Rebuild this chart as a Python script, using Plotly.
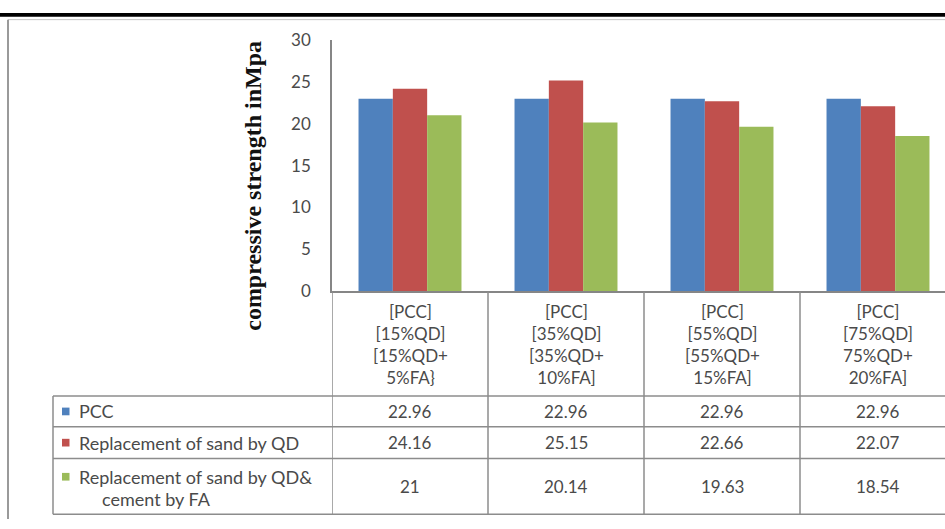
import plotly.graph_objects as go

# ---- data ----
categories = [
    "[PCC]<br>[15%QD]<br>[15%QD+<br>5%FA}",
    "[PCC]<br>[35%QD]<br>[35%QD+<br>10%FA]",
    "[PCC]<br>[55%QD]<br>[55%QD+<br>15%FA]",
    "[PCC]<br>[75%QD]<br>75%QD+<br>20%FA]",
]
series_names = [
    "PCC",
    "Replacement of sand by QD",
    "Replacement of sand by QD& cement by FA",
]
series_label_lines = [
    ["PCC"],
    ["Replacement of sand by QD"],
    ["Replacement of sand by QD&", "cement by FA"],
]
pcc = [22.96, 22.96, 22.96, 22.96]
sand_qd = [24.16, 25.15, 22.66, 22.07]
sand_qd_cement_fa = [21, 20.14, 19.63, 18.54]
series_values = [pcc, sand_qd, sand_qd_cement_fa]
value_labels = [
    ["22.96", "22.96", "22.96", "22.96"],
    ["24.16", "25.15", "22.66", "22.07"],
    ["21", "20.14", "19.63", "18.54"],
]
y_ticks = [0, 5, 10, 15, 20, 25, 30]
colors = ["#4F81BD", "#C0504D", "#9BBB59"]

W, H = 945, 529
TXT = "#4a4a4a"
GRID = "#8c8c8c"
FONT = "Lato"


def px(x):
    return x / W


def py(y):
    return 1 - y / H


x_pos = list(range(len(categories)))

fig = go.Figure()
for name, vals, col in zip(series_names, series_values, colors):
    fig.add_trace(go.Bar(x=x_pos, y=vals, name=name, marker=dict(color=col, line=dict(width=0))))

shapes = []
annotations = []

# page frame
shapes.append(dict(type="rect", xref="paper", yref="paper", x0=0, x1=1, y0=py(6), y1=py(2),
                   fillcolor="black", line=dict(width=0), layer="above"))
shapes.append(dict(type="line", xref="paper", yref="paper", x0=px(8), x1=1, y0=py(9), y1=py(9),
                   line=dict(color="#c4c4c4", width=1)))
shapes.append(dict(type="line", xref="paper", yref="paper", x0=px(8), x1=px(8), y0=py(9), y1=0,
                   line=dict(color="#9a9a9a", width=2)))

# data table grid
for b in [-0.5, 0.5, 1.5, 2.5]:
    shapes.append(dict(type="line", xref="x", yref="paper", x0=b, x1=b, y0=py(292), y1=py(524),
                       line=dict(color=GRID, width=1.5)))
shapes.append(dict(type="line", xref="paper", yref="paper", x0=px(53), x1=px(53), y0=py(401), y1=py(524),
                   line=dict(color=GRID, width=1.5)))
for yy in [401, 433, 466, 524]:
    shapes.append(dict(type="line", xref="paper", yref="paper", x0=px(53), x1=1, y0=py(yy), y1=py(yy),
                       line=dict(color=GRID, width=1.5)))

# category labels
for i, cat in enumerate(categories):
    annotations.append(dict(x=i, y=py(347), xref="x", yref="paper", text=cat, showarrow=False,
                            xanchor="center", yanchor="middle", align="center",
                            font=dict(family=FONT, size=17, color=TXT)))

# table rows: legend keys, series labels, values
row_centers = [417, 449.5, 495]
label_line_y = [[417], [449.5], [485, 508]]
label_line_x = [[77], [77], [77, 100]]
for r in range(len(series_names)):
    key_y = label_line_y[r][0]
    shapes.append(dict(type="rect", xref="paper", yref="paper", x0=px(62), x1=px(69.5),
                       y0=py(key_y + 4), y1=py(key_y - 4), fillcolor=colors[r], line=dict(width=0)))
    for line, lx, ly in zip(series_label_lines[r], label_line_x[r], label_line_y[r]):
        annotations.append(dict(x=px(lx), y=py(ly), xref="paper", yref="paper", text=line,
                                showarrow=False, xanchor="left", yanchor="middle",
                                font=dict(family=FONT, size=18, color=TXT)))
    for i, v in enumerate(value_labels[r]):
        annotations.append(dict(x=i, y=py(row_centers[r]), xref="x", yref="paper", text=v,
                                showarrow=False, xanchor="center", yanchor="middle",
                                font=dict(family=FONT, size=17, color=TXT)))

# axis title
annotations.append(dict(x=px(253), y=py(182), xref="paper", yref="paper",
                        text="<b>compressive strength inMpa</b>", textangle=-90, showarrow=False,
                        xanchor="center", yanchor="middle",
                        font=dict(family="Liberation Serif", size=24, color="#111111")))

fig.update_layout(
    width=W, height=H,
    margin=dict(l=0, r=0, t=0, b=0),
    paper_bgcolor="white", plot_bgcolor="white",
    barmode="group", bargap=0.34, bargroupgap=0,
    showlegend=False,
    shapes=shapes,
    annotations=annotations,
    xaxis=dict(domain=[px(332), 1], range=[-0.5, -0.5 + (W - 332) / 156.0],
               showticklabels=False, showgrid=False, zeroline=False,
               showline=True, linecolor="#868686", linewidth=1.5, ticks=""),
    yaxis=dict(domain=[py(292), py(30)], range=[0, 30], tickvals=y_ticks,
               showgrid=False, zeroline=False, showline=True, linecolor="#868686", linewidth=1.5,
               ticks="", ticklabelstandoff=16,
               tickfont=dict(family=FONT, size=17, color=TXT)),
)

fig.write_html("out.html")
